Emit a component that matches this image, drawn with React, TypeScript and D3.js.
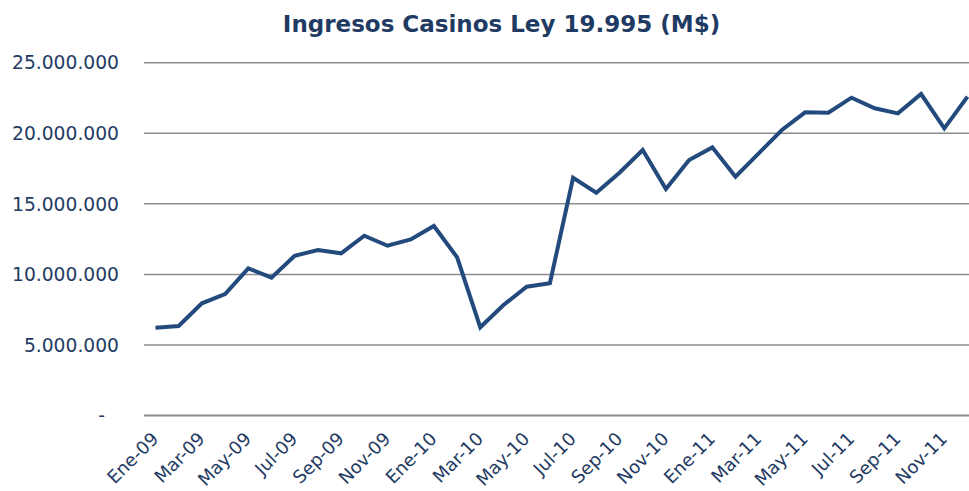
import React from "react";
import * as d3 from "d3";

const months = [
  "Ene-09","Feb-09","Mar-09","Abr-09","May-09","Jun-09","Jul-09","Ago-09","Sep-09","Oct-09","Nov-09","Dic-09",
  "Ene-10","Feb-10","Mar-10","Abr-10","May-10","Jun-10","Jul-10","Ago-10","Sep-10","Oct-10","Nov-10","Dic-10",
  "Ene-11","Feb-11","Mar-11","Abr-11","May-11","Jun-11","Jul-11","Ago-11","Sep-11","Oct-11","Nov-11","Dic-11",
];

const ingresos = [
  6220000, 6340000, 7950000, 8610000, 10430000, 9770000, 11320000, 11730000, 11490000, 12740000, 12030000, 12480000,
  13430000, 11210000, 6250000, 7830000, 9130000, 9370000, 16850000, 15790000, 17200000, 18810000, 16050000, 18100000,
  19000000, 16920000, 18580000, 20230000, 21480000, 21450000, 22520000, 21770000, 21410000, 22780000, 20350000, 22590000,
];

const yTicks = [0, 5000000, 10000000, 15000000, 20000000, 25000000];

const title = "Ingresos Casinos Ley 19.995 (M$)";

const W = 969;
const H = 491;
const TEXT = "#1F3B63";
const LINE = "#234A7C";
const GRID = "#8C8C8C";
const FONT = "'DejaVu Sans', Verdana, sans-serif";

export default function App() {
  const x = d3.scalePoint<string>().domain(months).range([155.5, 967.5]);
  const y = d3.scaleLinear().domain([0, 25000000]).range([415.5, 62.7]);
  const fmt = (v: number) =>
    v === 0 ? "-" : d3.format(",")(v).replace(/,/g, ".");
  const line = d3
    .line<number>()
    .x((_, i) => x(months[i]) as number)
    .y((d) => y(d));

  return (
    <svg
      width={W}
      height={H}
      style={{ position: "absolute", left: 0, top: 0, background: "#fff" }}
      fontFamily={FONT}
    >
      <text
        x={501.5}
        y={32}
        textAnchor="middle"
        fontSize={23}
        fontWeight="bold"
        fill={TEXT}
      >
        {title}
      </text>
      {yTicks.map((t) => (
        <g key={t}>
          <line
            x1={144}
            x2={W}
            y1={y(t)}
            y2={y(t)}
            stroke={GRID}
            strokeWidth={t === 0 ? 2 : 1.5}
          />
          <text
            x={t === 0 ? 105 : 119}
            y={y(t)}
            dy="0.36em"
            textAnchor="end"
            fontSize={18.7}
            fill={TEXT}
          >
            {fmt(t)}
          </text>
        </g>
      ))}
      {months.map((m, i) =>
        i % 2 === 0 ? (
          <text
            key={m}
            transform={`translate(${(x(m) as number) + 4},${440}) rotate(-45)`}
            textAnchor="end"
            fontSize={18}
            fill={TEXT}
          >
            {m}
          </text>
        ) : null
      )}
      <path
        d={line(ingresos) || ""}
        fill="none"
        stroke={LINE}
        strokeWidth={4}
        strokeLinejoin="miter"
      />
    </svg>
  );
}
